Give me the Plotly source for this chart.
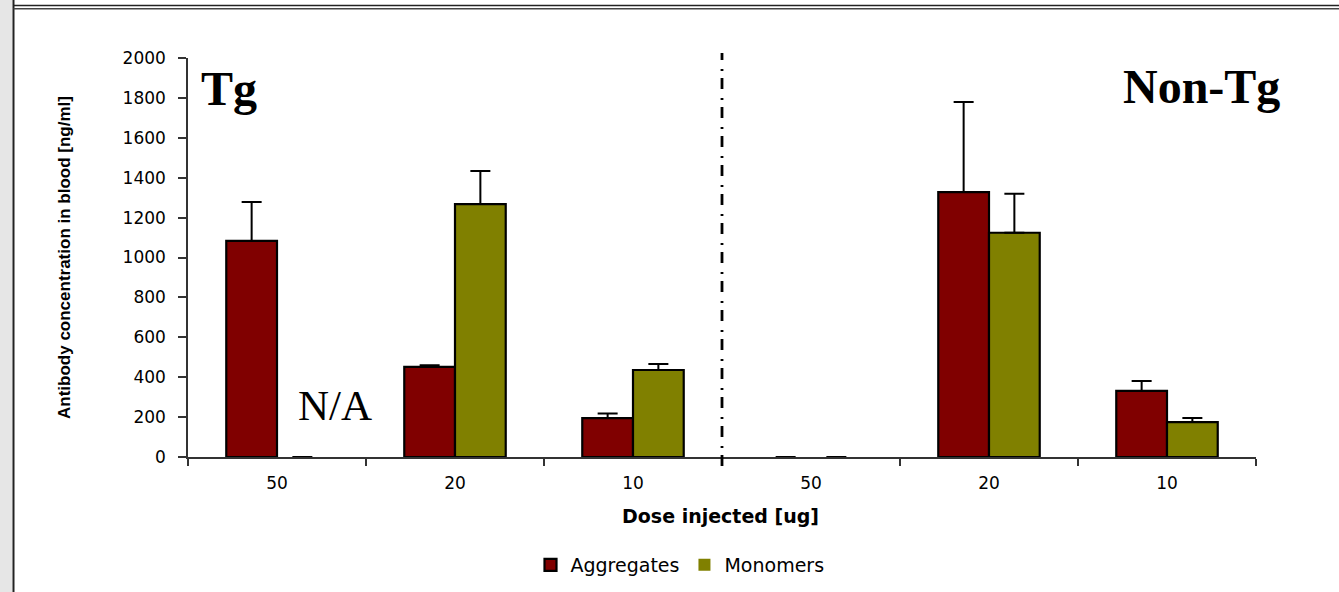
import plotly.graph_objects as go

# ---- data ----
dose_labels = ["50", "20", "10", "50", "20", "10"]
aggregates = [1083, 452, 195, 0, 1328, 331]
aggregates_err = [195, 8, 23, 0, 452, 50]
monomers = [0, 1268, 436, 0, 1124, 175]
monomers_err = [0, 166, 30, 0, 196, 20]
y_ticks = [0, 200, 400, 600, 800, 1000, 1200, 1400, 1600, 1800, 2000]

W, H = 1339, 592
L, R, T, B = 188, 1256, 58, 457


def px(x):
    return (x - L) / (R - L)


def py(y):
    return (B - y) / (B - T)


xpos = list(range(len(dose_labels)))
tick_font = dict(family="DejaVu Sans", size=17, color="black")


def outline_widths(values):
    return [2.2 if v > 0 else 0 for v in values]


fig = go.Figure()
fig.add_trace(go.Bar(
    x=xpos, y=aggregates, name="Aggregates",
    marker=dict(color="#800000", line=dict(color="black", width=outline_widths(aggregates))),
    error_y=dict(type="data", symmetric=False, array=aggregates_err,
                 arrayminus=[0] * len(aggregates), color="black",
                 thickness=2, width=10),
))
fig.add_trace(go.Bar(
    x=xpos, y=monomers, name="Monomers",
    marker=dict(color="#808000", line=dict(color="black", width=outline_widths(monomers))),
    error_y=dict(type="data", symmetric=False, array=monomers_err,
                 arrayminus=[0] * len(monomers), color="black",
                 thickness=2, width=10),
))

shapes = [
    # left grey strip and frame
    dict(type="rect", xref="paper", yref="paper", x0=px(-2), x1=px(12.5),
         y0=py(H + 5), y1=py(-2), fillcolor="#e6e6e6", line=dict(width=0), layer="below"),
    dict(type="line", xref="paper", yref="paper", x0=px(13.5), x1=px(13.5),
         y0=py(H + 5), y1=py(-2), line=dict(color="#222222", width=2)),
    dict(type="line", xref="paper", yref="paper", x0=px(13.5), x1=px(W + 5),
         y0=py(5.5), y1=py(5.5), line=dict(color="#222222", width=1.5)),
    dict(type="line", xref="paper", yref="paper", x0=px(13.5), x1=px(W + 5),
         y0=py(8.8), y1=py(8.8), line=dict(color="#444444", width=1.5)),
    # dash-dot separator
    dict(type="line", xref="x", yref="paper", x0=2.5, x1=2.5,
         y0=py(466), y1=py(53),
         line=dict(color="black", width=2.8, dash="11px,7px,2px,9px")),
]

annotations = [
    dict(text="<b>Tg</b>", xref="paper", yref="paper", x=px(229), y=py(88),
         showarrow=False, xanchor="center", yanchor="middle",
         font=dict(family="Liberation Serif", size=48, color="black")),
    dict(text="<b>Non-Tg</b>", xref="paper", yref="paper", x=px(1201), y=py(86),
         showarrow=False, xanchor="center", yanchor="middle",
         font=dict(family="Liberation Serif", size=48, color="black")),
    dict(text="N/A", xref="paper", yref="paper", x=px(335), y=py(405),
         showarrow=False, xanchor="center", yanchor="middle",
         font=dict(family="Liberation Serif", size=43, color="black")),
    dict(text="<b>Antibody concentration in blood [ng/ml]</b>", xref="paper", yref="paper",
         x=px(64), y=py(258), showarrow=False, textangle=-90,
         xanchor="center", yanchor="middle",
         font=dict(family="Liberation Sans", size=17, color="black")),
    dict(text="<b>Dose injected [ug]</b>", xref="paper", yref="paper",
         x=px(720), y=py(516), showarrow=False, xanchor="center", yanchor="middle",
         font=dict(family="DejaVu Sans", size=19, color="black")),
]

fig.update_layout(
    width=W, height=H,
    margin=dict(l=L, r=W - R, t=T, b=H - B, pad=0, autoexpand=False),
    paper_bgcolor="white", plot_bgcolor="white",
    barmode="group", bargap=0.43, bargroupgap=0,
    showlegend=True,
    legend=dict(orientation="h", x=px(680), y=py(565), xanchor="center", yanchor="middle",
                font=dict(family="DejaVu Sans", size=19, color="black"),
                itemwidth=30, bgcolor="rgba(0,0,0,0)"),
    shapes=shapes, annotations=annotations,
    xaxis=dict(range=[-0.5, 5.5], tickvals=xpos, ticktext=dose_labels,
               ticks="", showgrid=False, zeroline=False,
               showline=True, linecolor="#333333", linewidth=1.5,
               tickfont=tick_font, ticklabelstandoff=10,
               minor=dict(tickvals=[i - 0.5 for i in range(len(dose_labels) + 1)],
                          ticks="outside", ticklen=7, tickcolor="#333333", tickwidth=1.5)),
    yaxis=dict(range=[0, 2000], tickvals=y_ticks, ticks="outside", ticklen=8,
               tickcolor="#333333", tickwidth=1.5,
               showgrid=False, zeroline=False, showline=True,
               linecolor="#333333", linewidth=1.5,
               tickfont=tick_font, ticklabelstandoff=9),
)

page_fix = (
    "var de=document.documentElement, b=document.body;"
    "de.style.margin='0';de.style.padding='0';de.style.overflow='hidden';"
    "b.style.margin='0';b.style.padding='0';b.style.overflow='hidden';"
)

fig.write_html(
    "out.html",
    config={"displayModeBar": False},
    post_script=page_fix,
)
